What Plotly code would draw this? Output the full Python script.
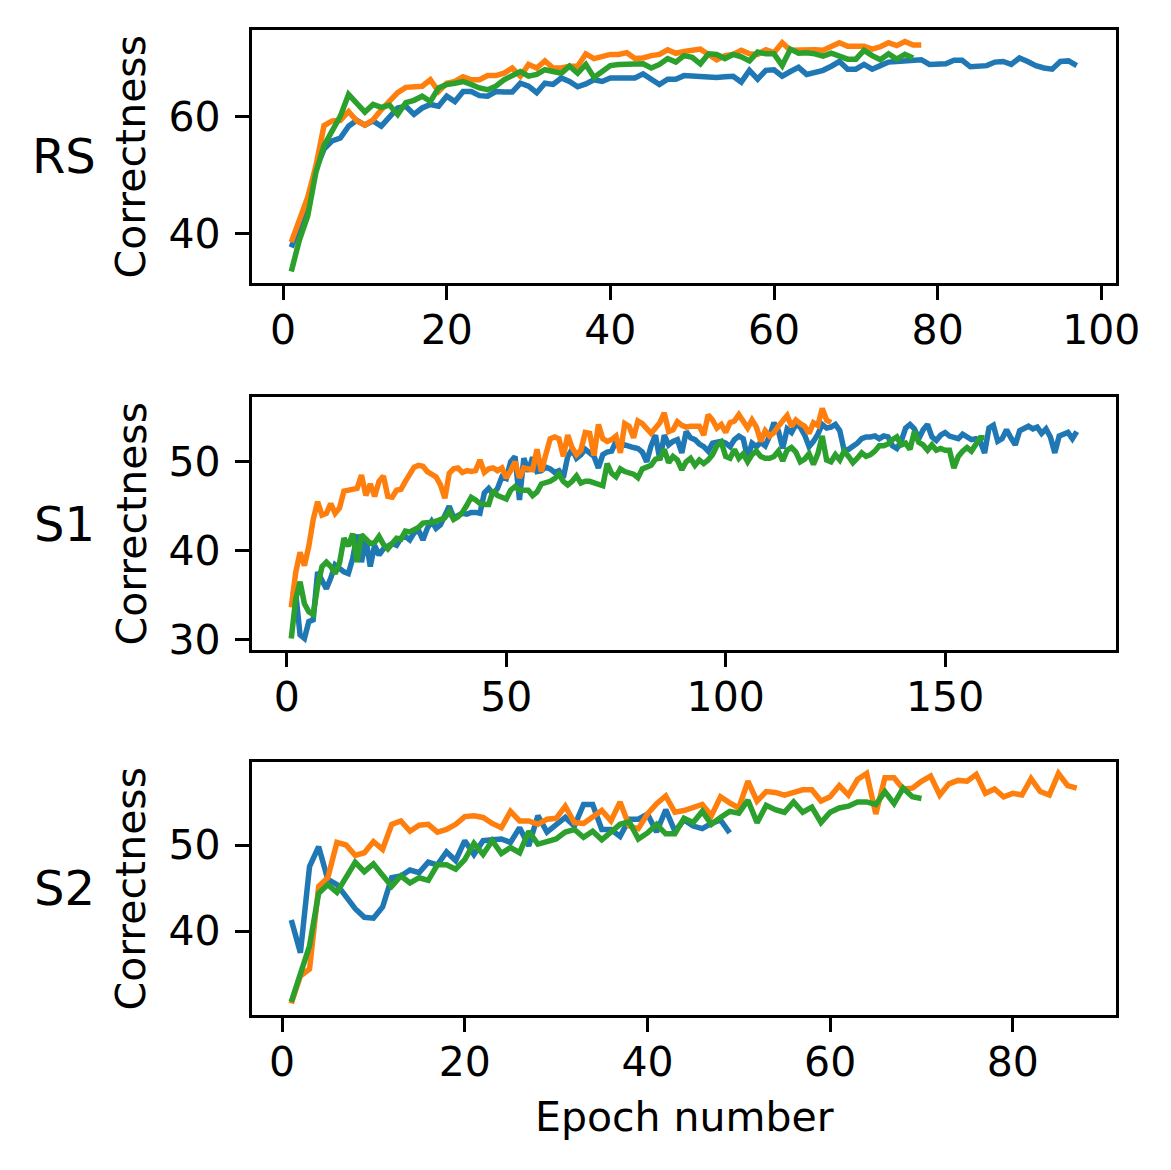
import plotly.graph_objects as go

# RS
rs_blue = [37.7, 41.4, 44.7, 51, 54.4, 55.8, 56.3, 58.3, 59.3, 58.5,
           59.2, 58.3, 60, 61.4, 61.7, 60.3, 61.4, 62, 61.7, 63.4,
           62.5, 64.2, 64.2, 63.5, 63.4, 64.2, 64.1, 64.1, 65.6, 65.1,
           64, 65.6, 65.4, 66.5, 65.9, 65, 65.5, 66.2, 65.9, 66.5,
           66.5, 66.5, 66.5, 67.2, 66.2, 65.4, 66.3, 66.3, 66.9, 66.8,
           66.8, 66.7, 66.6, 66.7, 66.8, 65.8, 67.8, 66.3, 67.8, 67.9,
           66.8, 67.6, 68.3, 67.1, 67.5, 67.8, 68.5, 69.3, 68, 68,
           68.8, 68, 68.6, 69.2, 69.3, 69.4, 69.4, 69.6, 68.8, 68.9,
           68.9, 69.5, 69.5, 68.4, 68.4, 68.6, 69.2, 69.3, 68.8, 69.9,
           69.3, 68.6, 68.2, 68, 69.3, 69.4, 68.6]
rs_orange = [38.6, 42.5, 46.2, 51.5, 58.4, 59.2, 59.3, 60.8, 59.2, 58.5,
             59.4, 61.1, 62.5, 64, 64.9, 65.1, 65.1, 66.2, 64.2, 65.6,
             65.9, 66.7, 66.2, 66.2, 66.9, 66.9, 67.3, 68.2, 66.8, 68.8,
             68.2, 69.4, 68.2, 68.2, 68.5, 68.5, 70.6, 69.8, 70.2, 70.5,
             70.5, 70.8, 69.8, 69.9, 70.3, 70.5, 71.3, 70.7, 71, 71.1,
             71.4, 70.5, 69.6, 70.3, 70.5, 71.2, 70.6, 70.5, 71.3, 70.8,
             72.5, 71.2, 71.3, 71.4, 71.3, 71.2, 71.8, 72.5, 71.9, 71.9,
             71.9, 71.4, 71.8, 72.5, 72, 72.7, 72.1, 72.1]
rs_green = [33.6, 39, 43, 50.4, 55, 57.7, 60, 63.7, 62.3, 60.7,
            62, 61.5, 61.9, 60.3, 62.3, 62.7, 63.4, 62.5, 64.8, 65.4,
            65.6, 65.9, 65.4, 64.8, 64.5, 65.1, 66.2, 66.8, 67.6, 66.8,
            67.1, 67.9, 67.6, 67.3, 68.5, 67.3, 68.8, 66.6, 67.6, 68.6,
            68.8, 68.8, 68.8, 68.9, 68.2, 68.8, 69.8, 69.2, 70.3, 70,
            68.9, 70.6, 70.5, 69.8, 70.5, 70.1, 69.4, 70.9, 70.6, 70.6,
            68.6, 71.4, 70.7, 70.8, 70.6, 70.2, 70.7, 70.3, 69.7, 69.7,
            71.2, 70.3, 69.6, 70.6, 69.7, 70.5, 69.9]

# S1
s1_blue = [35.5, 35.3, 30.5, 30.1, 32, 32.2, 37.6, 36.5, 35.7, 36.9,
           38.4, 38, 37.6, 37.4, 39.1, 41.8, 38.7, 41.3, 38.2, 40.6,
           39.5, 40.2, 40.5, 40.8, 40.6, 41.4, 41.6, 41.2, 42, 42.3,
           41.2, 42.5, 43.3, 42.5, 42.9, 44, 45, 43.7, 43.9, 44.2,
           44.1, 44.3, 44.3, 44.2, 46.5, 47, 46.4, 47, 48.3, 48.1,
           50, 50.6, 45.7, 50.4, 48.9, 50.5, 48.9, 49, 49.4, 49.2,
           48.8, 49, 48.2, 50.6, 51.4, 50.4, 50.8, 51.4, 51, 50.6,
           49.3, 50.8, 51.1, 51.2, 52.3, 51.7, 51.9, 51.7, 51.6, 51.5,
           51.1, 50, 51.8, 53, 50.2, 53, 51.9, 52.3, 52.5, 51,
           53.4, 52.7, 52.5, 52, 51.7, 51.2, 52.1, 52.2, 52.3, 52.1,
           51.7, 52.5, 52.9, 52.6, 50.4, 52.1, 51.7, 52.2, 51.8, 52.9,
           54.4, 53.5, 51.5, 53.7, 53.3, 54.2, 53.9, 53, 51.7, 52.3,
           53.1, 54.2, 53.8, 53.9, 54.2, 53.5, 51.3, 51.4, 51.7, 52.1,
           52.6, 52.8, 52.8, 52.9, 52.6, 52.9, 52.8, 51.8, 51.5, 52.3,
           53.8, 54.2, 53.7, 52.6, 53.6, 54.2, 52.8, 52.4, 53, 53.3,
           52.9, 52.8, 52.6, 53.1, 52.8, 52.5, 52.6, 52.3, 51, 53.8,
           54.1, 52.3, 52.6, 53.6, 52.7, 51.9, 53.5, 53.8, 54, 53.7,
           53.9, 53.2, 53.7, 52.8, 51, 52.9, 53.1, 53.3, 52.6, 53.4]
s1_orange = [33.6, 37.5, 39.8, 38.3, 40.5, 43.5, 45.5, 44, 44.2, 45.3,
             44.2, 44.8, 46.7, 46.8, 46.9, 47, 48.5, 46.2, 47.5, 46.1,
             47.8, 48.4, 46.1, 46, 46.8, 46.9, 47.8, 48.6, 49.4, 49.6,
             49.5, 48.9, 48.6, 48.3, 47.4, 45.9, 48.7, 49.2, 49.3, 48.8,
             49, 48.9, 49, 50.2, 48.8, 49.2, 49.3, 49, 49.3, 48.2,
             49, 50, 48.2, 49.3, 49.2, 49.1, 51.4, 48.9, 50.8, 52.6,
             52.8, 52.6, 50.6, 53, 51.6, 50.8, 51.3, 53.3, 53.2, 50.7,
             54.2, 52.6, 52.3, 52.5, 52.9, 51, 54.3, 54, 52.7, 54.6,
             54.3, 53.8, 53.2, 53.8, 54.4, 55.5, 53.4, 53.6, 54.5, 54.1,
             53.9, 54, 54, 54, 53, 55.3, 54.7, 53.8, 54.2, 53.3,
             54.4, 54.6, 55.3, 54.4, 53.8, 54.7, 53.9, 52.3, 53.5, 52.9,
             53.3, 54, 54.5, 55.2, 54, 54.7, 54.3, 54, 53.2, 54.4,
             54.1, 56, 54.7, 54.4]
s1_green = [30.1, 34.5, 36.5, 34, 33.1, 32.8, 36, 38.2, 38.7, 38.2,
            37.4, 38.6, 41.4, 40.5, 41.9, 38.7, 41.8, 41.2, 40.8, 40.9,
            41.6, 40.7, 40.2, 40.8, 41.4, 41.3, 42.2, 42.1, 42.3, 42.6,
            43.1, 43.1, 43.2, 43.3, 43.5, 43.7, 44.4, 43.5, 43.8, 44.3,
            45.1, 46, 45.7, 45.3, 45.2, 45.2, 46.8, 46.2, 46, 45.8,
            46.8, 47.2, 46.8, 46.8, 46.8, 46.2, 46.6, 47.5, 47.6, 47.8,
            48.1, 48.6, 47.8, 47.4, 47.8, 48.4, 47.6, 47.8, 47.8, 47.6,
            47.4, 47.3, 49.8, 48.7, 48.3, 49.2, 48.9, 48.7, 48.6, 48.2,
            49.2, 49.4, 49.6, 50.3, 50.4, 51.4, 49.9, 50.6, 50.2, 49.1,
            50, 50.4, 49.6, 50.2, 49.8, 50.2, 50.8, 51.8, 52.2, 50.6,
            50.4, 51.4, 50.4, 50.9, 50, 50.8, 51.2, 50.6, 50.4, 50.4,
            50.6, 51.2, 50.1, 51.3, 51.6, 51.1, 50, 50.3, 50.9, 49.7,
            50.9, 52.9, 50.2, 50, 50.8, 50.2, 51.2, 50.6, 49.9, 50.4,
            51, 50.6, 50.8, 51.2, 51.8, 51.8, 52, 52.5, 52.8, 51.9,
            52.1, 51.4, 53.4, 52.2, 51.9, 51.3, 51.9, 51.3, 51.5, 51.3,
            51.3, 49.3, 50.6, 51.2, 51.6, 51.2, 52.1, 52.7, 52.7]

# S2
s2_blue = [41.3, 37.5, 47.5, 49.8, 46, 45.4, 44, 42.6, 41.6, 41.5,
           42.8, 46.2, 46.4, 47.1, 46.8, 48, 47.7, 49.2, 48.2, 50.5,
           48.9, 50.5, 50.6, 50.7, 50.3, 52, 49.9, 53.4, 51.5, 52.4,
           53.2, 52.2, 54.7, 54.7, 51.8, 51.8, 51, 53, 53, 53.6,
           51.5, 54.1, 51.6, 52.9, 52.2, 51.9, 52.5, 52.9, 51.4]
s2_orange = [31.6, 34.8, 35.6, 45.2, 46.2, 50.3, 50, 48.8, 49.1, 50.4,
             49.5, 52.4, 52.8, 51.6, 52.3, 52.4, 51.5, 51.8, 52.4, 53.3,
             53.4, 53.2, 52.5, 52, 53.9, 52.8, 52.8, 52.4, 53, 53.1,
             54.5, 52.6, 52.5, 53.2, 54, 52.8, 55, 52.2, 51.9, 53.6,
             54.8, 55.7, 53.8, 54, 54.3, 54.7, 53.4, 55.6, 54.9, 54.3,
             57.4, 55.1, 56.2, 56.1, 55.8, 56.1, 56.4, 56.4, 55.1, 55.6,
             56.9, 55.8, 57.6, 58.3, 53.6, 57.8, 57.8, 56.5, 56.6, 57.4,
             58, 55.8, 57.1, 57.5, 57.4, 58.2, 56, 56.5, 55.6, 56,
             55.8, 57.7, 56.2, 55.8, 58.3, 56.9, 56.6]
s2_green = [31.8, 35.2, 38.3, 44.4, 45.4, 44.5, 46.2, 48, 46.9, 47.8,
            46.5, 45.2, 46.4, 45.6, 46.2, 45.9, 47.7, 47.7, 47.2, 48.3,
            50.2, 48.9, 50.5, 49, 49.7, 49.1, 51.6, 50.1, 50.4, 50.7,
            51.5, 51.8, 50.9, 51.6, 50.6, 51.4, 52.4, 52.7, 50.7, 51.4,
            52.4, 51.3, 51.3, 53.1, 52.6, 53.9, 52.4, 53.2, 53.9, 53.7,
            55.2, 52.6, 54.6, 54.1, 53.8, 55, 53.8, 54.4, 52.6, 53.8,
            54.3, 54.5, 55, 55, 54.7, 56.2, 54.8, 56.6, 55.6, 55.4]

panels = [
    ("RS", [rs_blue, rs_orange, rs_green], 20, 20),
    ("S1", [s1_blue, s1_orange, s1_green], 50, 10),
    ("S2", [s2_blue, s2_orange, s2_green], 20, 10),
]
colors = ["#1f77b4", "#ff7f0e", "#2ca02c"]

# page coordinates of the target picture; the html body adds an 8px margin
OFF = 8
W, H = 1171 - OFF, 1170 - OFF
left, right = 252, 1116
tops = [30, 397, 762]
ph = 253


def px(x):
    return (x - OFF) / W


def py(y):
    return 1 - (y - OFF) / H


FONT = "DejaVu Sans"
fig = go.Figure()
annotations = []


def padded(lo, hi):
    m = (hi - lo) * 0.05
    return [lo - m, hi + m]


for i, (name, series, xdt, ydt) in enumerate(panels):
    n = i + 1
    xa = "x" if n == 1 else "x%d" % n
    ya = "y" if n == 1 else "y%d" % n
    for vals, c in zip(series, colors):
        fig.add_trace(go.Scatter(
            x=list(range(1, len(vals) + 1)), y=vals, mode="lines",
            line=dict(color=c, width=5.5), xaxis=xa, yaxis=ya,
            showlegend=False))
    allx = [len(v) for v in series]
    ally = [y for v in series for y in v]
    top = tops[i]
    y0 = py(top + ph)
    y1 = py(top)
    common = dict(showline=True, mirror=True, linecolor="black", linewidth=3.3,
                  ticks="outside", ticklen=14, tickwidth=3.3, tickcolor="black",
                  showgrid=False, zeroline=False, automargin=False,
                  tickfont=dict(family=FONT, size=41, color="black"))
    fig.layout["xaxis" + ("" if n == 1 else str(n))] = dict(
        domain=[px(left), px(right)], anchor=ya, range=padded(1, max(allx)),
        tick0=0, dtick=xdt, ticklabelstandoff=-5, **common)
    fig.layout["yaxis" + ("" if n == 1 else str(n))] = dict(
        domain=[y0, y1], anchor=xa, range=padded(min(ally), max(ally)),
        tick0=0, dtick=ydt, ticklabelstandoff=6, **common)
    yc = (y0 + y1) / 2
    annotations.append(dict(text="Correctness", x=px(131), y=yc, xref="paper",
                            yref="paper", showarrow=False, textangle=-90,
                            xanchor="center", yanchor="middle",
                            font=dict(family=FONT, size=41, color="black")))
    annotations.append(dict(text=name, x=px(64), y=yc, xref="paper",
                            yref="paper", showarrow=False, xanchor="center",
                            yanchor="middle",
                            font=dict(family=FONT, size=48, color="black")))

annotations.append(dict(text="Epoch number", x=px((left + right) / 2),
                        y=py(1117), xref="paper", yref="paper",
                        showarrow=False, xanchor="center", yanchor="middle",
                        font=dict(family=FONT, size=41, color="black")))

fig.update_layout(width=W, height=H, margin=dict(l=0, r=0, t=0, b=0),
                  plot_bgcolor="white", paper_bgcolor="white",
                  annotations=annotations)
fig.write_html("out.html")
